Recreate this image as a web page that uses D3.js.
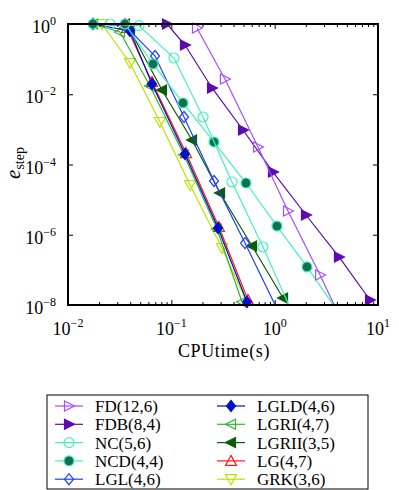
<!DOCTYPE html>
<html>
<head>
<meta charset="utf-8">
<style>
  html, body { margin: 0; padding: 0; background: #fff; }
  svg text { font-family: "Liberation Serif", "Times New Roman", serif; fill: #000; }
  .series path.line { fill: none; stroke-width: 1.2; }
  .tick line { stroke: #000; stroke-width: 1; }
</style>
</head>
<body>
<svg width="399" height="490"></svg>
<script src="https://cdn.jsdelivr.net/npm/d3@7/dist/d3.min.js"></script>
<script>
// series labels, in legend order
var names = ["FD(12,6)", "FDB(8,4)", "NC(5,6)", "NCD(4,4)", "LGL(4,6)",
             "LGLD(4,6)", "LGRI(4,7)", "LGRII(3,5)", "LG(4,7)", "GRK(3,6)"];

// CPU time (s) and e_step
var fdTime    = [0.177, 0.330, 0.690, 1.346, 2.75, 5.36];
var fdErr     = [0.77, 2.72e-2, 3.15e-4, 4.75e-6, 7.15e-8, 1.08e-9];
var fdbTime   = [0.0908, 0.1355, 0.2475, 0.494, 0.964, 2.01, 4.19, 8.37];
var fdbErr    = [1, 0.252, 1.51e-2, 9.6e-4, 6.1e-5, 3.65e-6, 2.33e-7, 1.39e-8];
var ncTime    = [0.0255, 0.0486, 0.1061, 0.2025, 0.3864, 0.771, 1.758];
var ncErr     = [1, 0.9, 0.1076, 2.25e-3, 3.18e-5, 4.48e-7, 1.94e-9];
var ncdTime   = [0.01746, 0.0356, 0.0665, 0.1297, 0.2588, 0.528, 1.053, 2.056, 4.80];
var ncdErr    = [1, 1, 7.27e-2, 5.64e-3, 4.37e-4, 2.97e-5, 1.77e-6, 1.21e-7, 3.28e-9];
var lglTime   = [0.01746, 0.0356, 0.0695, 0.1326, 0.2588, 0.5164, 1.127];
var lglErr    = [1, 0.9, 0.1227, 2.25e-3, 3.39e-5, 5.82e-7, 5.2e-9];
var lgldTime  = [0.01746, 0.0398, 0.065, 0.1355, 0.2829, 0.5395];
var lgldErr   = [1, 0.632, 1.96e-2, 1.99e-4, 1.56e-6, 1.22e-8];
var lgriTime  = [0.01746, 0.0318, 0.0622, 0.1326, 0.2767, 0.483];
var lgriErr   = [1, 0.592, 1.72e-2, 1.86e-4, 1.46e-6, 1.22e-8];
var lgriiTime = [0.0356, 0.0398, 0.0812, 0.1585, 0.2958, 0.604, 1.205];
var lgriiErr  = [1, 0.675, 1.32e-2, 4.99e-4, 1.54e-5, 4.79e-7, 1.58e-8];
var lgTime    = [0.0356, 0.0373, 0.065, 0.1387, 0.289, 0.552];
var lgErr     = [1, 0.77, 2.23e-2, 2.12e-4, 1.66e-6, 1.39e-8];
var grkTime   = [0.0213, 0.0398, 0.0776, 0.1518, 0.309, 0.659];
var grkErr    = [1, 7.76e-2, 1.62e-3, 2.61e-5, 4.2e-7, 3.28e-9];

var xTicks = [0.01, 0.1, 1, 10];
var xTickExp = ["\u22122", "\u22121", "0", "1"];
var yTicks = [1, 1e-2, 1e-4, 1e-6, 1e-8];
var yTickExp = ["0", "\u22122", "\u22124", "\u22126", "\u22128"];

var times = [fdTime, fdbTime, ncTime, ncdTime, lglTime, lgldTime, lgriTime, lgriiTime, lgTime, grkTime];
var errs  = [fdErr, fdbErr, ncErr, ncdErr, lglErr, lgldErr, lgriErr, lgriiErr, lgErr, grkErr];

// look of each series
var styles = [
  {color: "#a64dff", fill: "none",    shape: "triR"},
  {color: "#5b0bb0", fill: "#5b0bb0", shape: "triR"},
  {color: "#45f0c0", fill: "none",    shape: "circle"},
  {color: "#45f0c0", fill: "#127050", shape: "circle"},
  {color: "#1f3fff", fill: "none",    shape: "diamond"},
  {color: "#0010cc", fill: "#0010cc", shape: "diamond"},
  {color: "#2eb82e", fill: "none",    shape: "triL"},
  {color: "#0a5c0a", fill: "#0a5c0a", shape: "triL"},
  {color: "#ff1a1a", fill: "none",    shape: "triU"},
  {color: "#bfe000", fill: "none",    shape: "triD"}
];

function markerPath(shape) {
  switch (shape) {
    case "triR": return "M-4.5,-5L5.5,0L-4.5,5Z";
    case "triL": return "M4.5,-5L-5.5,0L4.5,5Z";
    case "triU": return "M0,-5.5L5.5,4.5L-5.5,4.5Z";
    case "triD": return "M0,5.5L5.5,-4.5L-5.5,-4.5Z";
    case "diamond": return "M0,-5.5L4.5,0L0,5.5L-4.5,0Z";
    case "circle": return "M5,0A5,5 0 1,1 -5,0A5,5 0 1,1 5,0Z";
  }
}

var svg = d3.select("svg");
var plotL = 68, plotR = 378, plotT = 24, plotB = 305;

var x = d3.scaleLog().domain([0.01, 10]).range([plotL, plotR]);
var y = d3.scaleLog().domain([1e-8, 1]).range([plotB, plotT]);

svg.append("defs").append("clipPath").attr("id", "plotclip")
  .append("rect").attr("x", plotL).attr("y", plotT - 8)
  .attr("width", plotR - plotL).attr("height", plotB - plotT + 8);

// minor x ticks (2..9 per decade)
var minors = [];
[0.01, 0.1, 1].forEach(function (d) {
  for (var k = 2; k <= 9; k++) minors.push(d * k);
});

var axes = svg.append("g");
axes.append("g").attr("transform", "translate(0," + plotB + ")")
  .call(d3.axisBottom(x).tickValues(xTicks).tickSize(-5).tickFormat(""));
axes.append("g").attr("transform", "translate(0," + plotB + ")")
  .call(d3.axisBottom(x).tickValues(minors).tickSize(-3).tickFormat(""));
axes.append("g").attr("transform", "translate(0," + plotT + ")")
  .call(d3.axisTop(x).tickValues(xTicks).tickSize(-5).tickFormat(""));
axes.append("g").attr("transform", "translate(0," + plotT + ")")
  .call(d3.axisTop(x).tickValues(minors).tickSize(-3).tickFormat(""));
axes.append("g").attr("transform", "translate(" + plotL + ",0)")
  .call(d3.axisLeft(y).tickValues(yTicks).tickSize(-5).tickFormat(""));
axes.append("g").attr("transform", "translate(" + plotR + ",0)")
  .call(d3.axisRight(y).tickValues(yTicks).tickSize(-5).tickFormat(""));
axes.selectAll(".domain").remove();

// tick labels with superscripts
var xl = svg.append("g").selectAll("text").data(xTicks).enter().append("text")
  .attr("x", function (d) { return x(d); })
  .attr("y", 335)
  .attr("text-anchor", "middle")
  .style("font-size", "18px");
xl.append("tspan").text("10");
xl.append("tspan").attr("dy", -8).style("font-size", "12px")
  .text(function (d, i) { return xTickExp[i]; });

var yl = svg.append("g").selectAll("text").data(yTicks).enter().append("text")
  .attr("x", 56)
  .attr("y", function (d) { return y(d) + 9; })
  .attr("text-anchor", "end")
  .style("font-size", "18px");
yl.append("tspan").text("10");
yl.append("tspan").attr("dy", -8).style("font-size", "12px")
  .text(function (d, i) { return yTickExp[i]; });

// axis titles
svg.append("text").attr("x", 224).attr("y", 357)
  .attr("text-anchor", "middle").style("font-size", "18px")
  .style("letter-spacing", "0.6px").text("CPUtime(s)");

var yt = svg.append("text").attr("transform", "translate(20,163) rotate(-90)")
  .attr("text-anchor", "middle");
yt.append("tspan").style("font-size", "21px").style("font-style", "italic").text("e");
yt.append("tspan").attr("dy", 4).style("font-size", "14px").text("step");

// series, drawn last-to-first so the early ones sit on top
var line = d3.line()
  .x(function (d) { return x(d[0]); })
  .y(function (d) { return y(d[1]); });

var order = d3.range(names.length).reverse();
var series = svg.append("g").selectAll("g").data(order).enter().append("g")
  .attr("class", "series");

series.append("path").attr("class", "line")
  .attr("clip-path", "url(#plotclip)")
  .attr("stroke", function (i) { return styles[i].color; })
  .attr("d", function (i) { return line(d3.zip(times[i], errs[i])); });

series.each(function (i) {
  var pts = d3.zip(times[i], errs[i]).filter(function (p) { return p[1] >= 9e-9; });
  d3.select(this).selectAll("path.mk").data(pts).enter().append("path")
    .attr("class", "mk")
    .attr("transform", function (p) { return "translate(" + x(p[0]) + "," + y(p[1]) + ")"; })
    .attr("d", markerPath(styles[i].shape))
    .attr("fill", styles[i].fill)
    .attr("stroke", styles[i].color)
    .attr("stroke-width", 1.2);
});

// plot box
svg.append("rect").attr("x", plotL).attr("y", plotT)
  .attr("width", plotR - plotL).attr("height", plotB - plotT)
  .attr("fill", "none").attr("stroke", "#000").attr("stroke-width", 2);

// legend
var legend = svg.append("g");
legend.append("rect").attr("x", 47).attr("y", 395).attr("width", 321).attr("height", 94)
  .attr("fill", "#fff").attr("stroke", "#000").attr("stroke-width", 1);

var items = legend.selectAll("g.item").data(names).enter().append("g")
  .attr("class", "item")
  .attr("transform", function (d, i) {
    var col = Math.floor(i / 5), row = i % 5;
    return "translate(" + (col ? 231 : 69) + "," + (406 + row * 18.3) + ")";
  });
items.append("line").attr("x1", -14).attr("x2", 14)
  .attr("stroke", function (d, i) { return styles[i].color; }).attr("stroke-width", 1.2);
items.append("path").attr("d", function (d, i) { return markerPath(styles[i].shape); })
  .attr("fill", function (d, i) { return styles[i].fill; })
  .attr("stroke", function (d, i) { return styles[i].color; })
  .attr("stroke-width", 1.2);
items.append("text").attr("x", 26).attr("y", 6)
  .style("font-size", "17px").text(function (d) { return d; });
</script>
</body>
</html>
